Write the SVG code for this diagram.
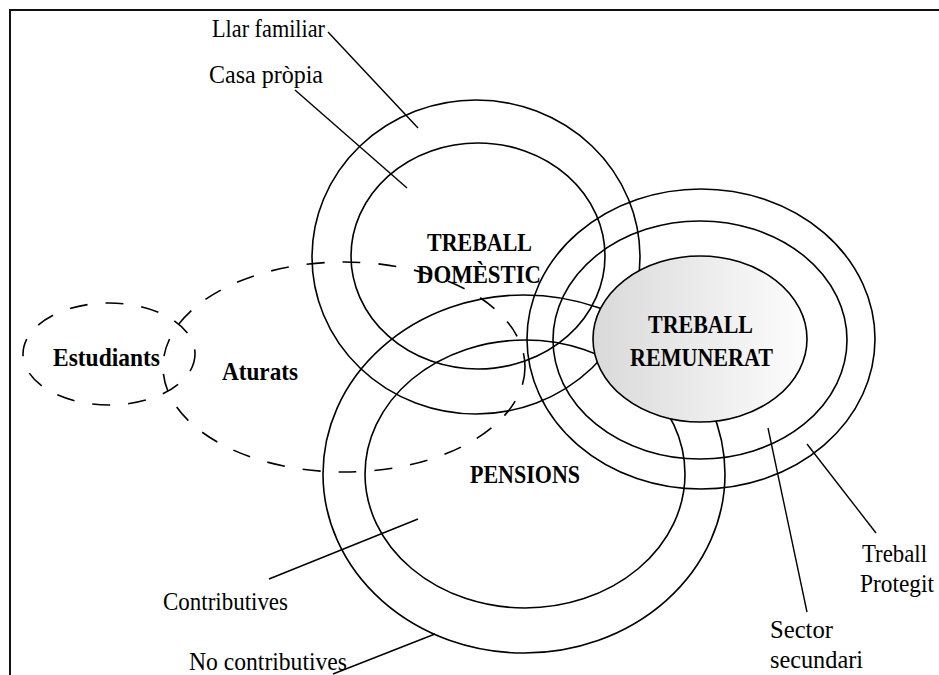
<svg xmlns="http://www.w3.org/2000/svg" width="939" height="675" viewBox="0 0 939 675">
<defs>
<linearGradient id="grad" x1="0" y1="0" x2="1" y2="0">
<stop offset="0" stop-color="#d9d9d9"/>
<stop offset="1" stop-color="#fdfdfd"/>
</linearGradient>
<style>
.ring{fill:none;stroke:#000;stroke-width:1.6}
.dash{fill:none;stroke:#000;stroke-width:1.6;stroke-dasharray:18 18}
.lead{stroke:#000;stroke-width:1.4;fill:none}
.t{font-family:"Liberation Serif","Times New Roman",serif;font-size:25.5px;fill:#000}
.b{font-family:"Liberation Serif","Times New Roman",serif;font-size:26px;font-weight:bold;fill:#000}
</style>
</defs>
<rect x="10" y="10" width="940" height="680" fill="#fff" stroke="#111" stroke-width="2"/>

<g id="domestic">
<ellipse class="ring" cx="476" cy="257" rx="164" ry="157"/>
<ellipse class="ring" cx="478" cy="256" rx="127" ry="113"/>
</g>
<g id="pensions">
<ellipse class="ring" cx="524" cy="474" rx="201" ry="179"/>
<ellipse class="ring" cx="525" cy="474" rx="160" ry="134"/>
</g>
<g id="aturats">
<ellipse class="dash" cx="344" cy="367" rx="181" ry="105"/>
<text class="b" x="222" y="380" textLength="76" lengthAdjust="spacingAndGlyphs">Aturats</text>
</g>
<g id="estudiants">
<ellipse class="dash" cx="109" cy="354" rx="86" ry="51"/>
<text class="b" x="53" y="366" textLength="107" lengthAdjust="spacingAndGlyphs">Estudiants</text>
</g>
<g id="remunerat">
<ellipse class="ring" cx="701" cy="339" rx="174" ry="150"/>
<ellipse class="ring" cx="700" cy="340" rx="147" ry="119"/>
<ellipse cx="700" cy="339" rx="107" ry="83" fill="url(#grad)" stroke="#000" stroke-width="1.6"/>
<text class="b" x="648" y="333" textLength="105" lengthAdjust="spacingAndGlyphs">TREBALL</text>
<text class="b" x="630" y="366" textLength="143" lengthAdjust="spacingAndGlyphs">REMUNERAT</text>
</g>
<g id="domestic-label">
<text class="b" x="427" y="251" textLength="105" lengthAdjust="spacingAndGlyphs">TREBALL</text>
<text class="b" x="417" y="283" textLength="124" lengthAdjust="spacingAndGlyphs">DOMÈSTIC</text>
</g>
<g id="pensions-label">
<text class="b" x="470" y="483" textLength="110" lengthAdjust="spacingAndGlyphs">PENSIONS</text>
</g>

<g id="connectors">
<line class="lead" x1="328" y1="32" x2="418" y2="128"/>
<line class="lead" x1="295" y1="90" x2="407" y2="188"/>
<line class="lead" x1="269" y1="579" x2="418" y2="519"/>
<line class="lead" x1="333" y1="674" x2="435" y2="634"/>
<line class="lead" x1="807" y1="444" x2="876" y2="533"/>
<line class="lead" x1="768" y1="428" x2="807" y2="612"/>
</g>

<g id="llar-familiar"><text class="t" x="212" y="37" textLength="113" lengthAdjust="spacingAndGlyphs">Llar familiar</text></g>
<g id="casa-propia"><text class="t" x="209" y="83" textLength="114" lengthAdjust="spacingAndGlyphs">Casa pròpia</text></g>
<g id="contributives"><text class="t" x="163" y="610" textLength="125" lengthAdjust="spacingAndGlyphs">Contributives</text></g>
<g id="no-contributives"><text class="t" x="189" y="670" textLength="158" lengthAdjust="spacingAndGlyphs">No contributives</text></g>
<g id="treball-protegit">
<text class="t" x="862" y="562" textLength="65" lengthAdjust="spacingAndGlyphs">Treball</text>
<text class="t" x="860" y="592" textLength="74" lengthAdjust="spacingAndGlyphs">Protegit</text>
</g>
<g id="sector-secundari">
<text class="t" x="770" y="638" textLength="63" lengthAdjust="spacingAndGlyphs">Sector</text>
<text class="t" x="770" y="668" textLength="93" lengthAdjust="spacingAndGlyphs">secundari</text>
</g>
</svg>
